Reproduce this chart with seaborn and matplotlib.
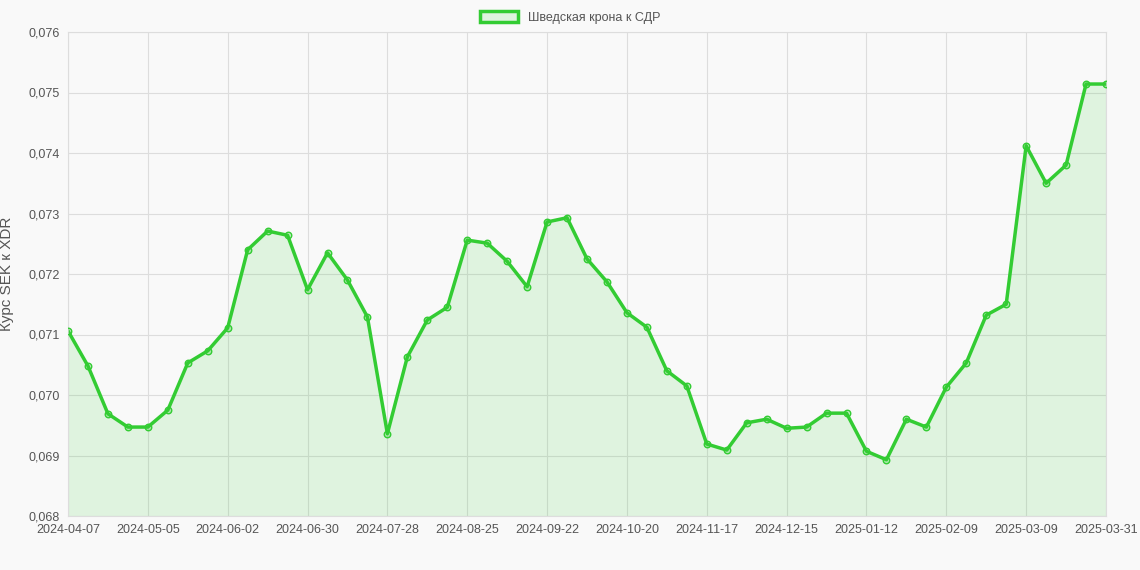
import matplotlib
matplotlib.use("Agg")
import matplotlib.pyplot as plt
import seaborn as sns
import pandas as pd
import numpy as np
from matplotlib.patches import Patch
from matplotlib.ticker import FuncFormatter

dates = list(pd.date_range("2024-04-07", "2025-03-30", freq="7D").strftime("%Y-%m-%d")) + ["2025-03-31"]
rates = [0.07106, 0.07048, 0.06969, 0.06947, 0.06947, 0.06975, 0.07053, 0.07073, 0.07111,
         0.07240, 0.07271, 0.07264, 0.07174, 0.07235, 0.07190, 0.07129, 0.06936, 0.07063,
         0.07124, 0.07145, 0.07256, 0.07251, 0.07221, 0.07179, 0.07286, 0.07293, 0.07225,
         0.07187, 0.07136, 0.07112, 0.07040, 0.07015, 0.06919, 0.06909, 0.06954, 0.06960,
         0.06945, 0.06947, 0.06970, 0.06970, 0.06907, 0.06893, 0.06960, 0.06947, 0.07013,
         0.07053, 0.07132, 0.07150, 0.07412, 0.07350, 0.07380, 0.07514, 0.07514]
label = "Шведская крона к СДР"
line_color = "#33cc33"

df = pd.DataFrame({"idx": range(len(dates)), "date": dates, "rate": rates})

sns.set_style("whitegrid")
plt.rcParams["font.family"] = ["Liberation Sans", "DejaVu Sans"]
fig = plt.figure(figsize=(11.4, 5.7), dpi=100, facecolor="#f9f9f9")
ax = fig.add_axes([68 / 1140, 1 - 516 / 570, (1106 - 68) / 1140, (516 - 32) / 570])
ax.set_facecolor("#f9f9f9")

ax.fill_between(df["idx"], df["rate"], 0.068, color=line_color, alpha=0.13, linewidth=0)
sns.lineplot(data=df, x="idx", y="rate", ax=ax, color=line_color, linewidth=2.5)
ax.scatter(df["idx"], df["rate"], s=22, facecolor=(0.2, 0.8, 0.2, 0.3), edgecolor=line_color, linewidth=1, zorder=3)

ax.set_xlim(0, len(dates) - 1)
ax.set_ylim(0.068, 0.076)
ax.set_yticks(np.arange(0.068, 0.0761, 0.001))
ax.yaxis.set_major_formatter(FuncFormatter(lambda v, p: f"{v:.3f}".replace(".", ",")))
tick_pos = list(range(0, len(dates) - 4, 4)) + [len(dates) - 1]
ax.set_xticks(tick_pos)
ax.set_xticklabels([dates[i] for i in tick_pos])
ax.grid(color="#dddddd", linewidth=0.8)
for s in ax.spines.values():
    s.set_color("#dddddd")
ax.tick_params(colors="#555555", labelsize=9, length=0, pad=6)
ax.set_xlabel("")
ax.set_ylabel("Курс SEK к XDR", color="#555555", fontsize=11, labelpad=10)

fig.legend(handles=[Patch(facecolor=(0.2, 0.8, 0.2, 0.13), edgecolor=line_color, linewidth=2.5, label=label)],
           loc="upper center", bbox_to_anchor=(0.5, 1.0), frameon=False, fontsize=9,
           handlelength=3, handleheight=0.9, labelcolor="#555555")

fig.savefig("out.png", dpi=100, facecolor=fig.get_facecolor())
